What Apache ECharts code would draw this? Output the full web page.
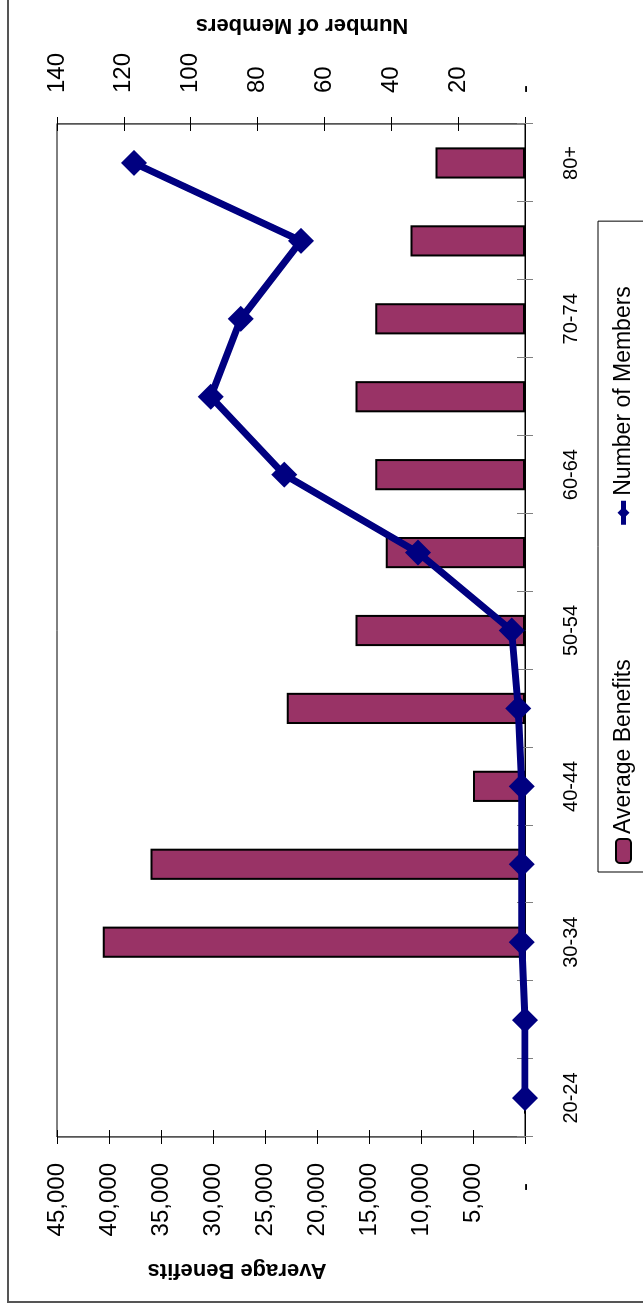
<!DOCTYPE html>
<html>
<head>
<meta charset="utf-8">
<script src="https://cdn.jsdelivr.net/npm/echarts@6/dist/echarts.min.js"></script>
<style>
  html, body { margin: 0; padding: 0; background: #fff; overflow: hidden; }
  body { width: 643px; height: 1315px; position: relative; }
  /* chart is laid out landscape, then turned a quarter turn counter-clockwise */
  #chart {
    position: absolute; left: 0; top: 0;
    width: 1315px; height: 643px;
    transform-origin: 0 0;
    transform: translateY(1315px) rotate(-90deg);
  }
</style>
</head>
<body>
<div id="chart"></div>
<script>
const ageBands = ['20-24','25-29','30-34','35-39','40-44','45-49','50-54','55-59','60-64','65-69','70-74','75-79','80+'];
const averageBenefits = [0, 0, 40600, 36000, 5000, 22900, 16300, 13400, 14400, 16300, 14400, 11000, 8600];
const numberOfMembers = [0, 0, 1, 1, 1, 2, 4, 32, 72, 94, 85, 67, 117];

const FONT = 'Liberation Sans, Arial, sans-serif';
const chart = echarts.init(document.getElementById('chart'), null, { renderer: 'canvas' });

const fmtThousands = v => v === 0 ? '{z|-}' : v.toLocaleString('en-US');
const fmtMembers = v => v === 0 ? '-' : String(v);

chart.setOption({
  animation: false,
  backgroundColor: '#fff',
  textStyle: { fontFamily: FONT },
  grid: { left: 178, right: 124, top: 57, bottom: 118, show: true, borderColor: '#000', borderWidth: 1, backgroundColor: 'transparent' },
  legend: {
    left: 443, top: 598,
    padding: [14, 65, 60, 8],
    itemGap: 132,
    itemWidth: 24, itemHeight: 15,
    borderColor: '#000', borderWidth: 1,
    textStyle: { fontFamily: FONT, fontSize: 23, color: '#000' },
    data: [
      { name: 'Average Benefits' },
      { name: 'Number of Members', lineStyle: { width: 5 } }
    ]
  },
  xAxis: [
    {
      type: 'category', data: ageBands, position: 'bottom',
      axisLine: { lineStyle: { color: '#000', width: 1 } },
      axisTick: { show: true, interval: 0, length: 8, lineStyle: { color: '#808080' } },
      axisLabel: { interval: 1, margin: 36, fontSize: 20, color: '#000', fontFamily: FONT }
    },
    {
      type: 'category', data: ageBands, position: 'bottom',
      axisLine: { show: false },
      axisTick: { show: true, inside: true, interval: 0, length: 8, lineStyle: { color: '#808080' } },
      axisLabel: { show: false }
    }
  ],
  yAxis: [
    {
      type: 'value', position: 'left', min: 0, max: 45000, interval: 5000,
      splitLine: { show: false },
      axisLine: { show: true, lineStyle: { color: '#555', width: 1 } },
      axisTick: { show: true, length: 7, lineStyle: { color: '#000' } },
      axisLabel: { margin: 26, fontSize: 24, color: '#000', fontFamily: FONT, formatter: fmtThousands,
        rich: { z: { fontSize: 24, fontFamily: FONT, color: '#000', padding: [0, 20, 0, 0] } } }
    },
    {
      type: 'value', position: 'right', min: 0, max: 140, interval: 20,
      splitLine: { show: false },
      axisLine: { show: true, lineStyle: { color: '#555', width: 1 } },
      axisTick: { show: true, length: 7, lineStyle: { color: '#000' } },
      axisLabel: { margin: 31, fontSize: 24, color: '#000', fontFamily: FONT, formatter: fmtMembers }
    },
    {
      type: 'value', position: 'left', min: 0, max: 45000, interval: 5000,
      splitLine: { show: false }, axisLine: { show: false }, axisLabel: { show: false },
      axisTick: { show: true, inside: true, length: 7, lineStyle: { color: '#000' } }
    },
    {
      type: 'value', position: 'right', min: 0, max: 140, interval: 20,
      splitLine: { show: false }, axisLine: { show: false }, axisLabel: { show: false },
      axisTick: { show: true, inside: true, length: 7, lineStyle: { color: '#000' } }
    }
  ],
  graphic: [
    { type: 'rect', shape: { x: 13, y: 8, width: 1400, height: 700 }, style: { fill: 'none', stroke: '#555', lineWidth: 2 }, silent: true, z: -1 },
    { type: 'text', x: 45, y: 237, rotation: Math.PI / 2,
      style: { text: 'Average Benefits', font: 'bold 22px ' + FONT, fill: '#000', align: 'center', verticalAlign: 'middle' } },
    { type: 'text', x: 1290, y: 302, rotation: Math.PI / 2,
      style: { text: 'Number of Members', font: 'bold 22px ' + FONT, fill: '#000', align: 'center', verticalAlign: 'middle' } }
  ],
  series: [
    {
      name: 'Average Benefits', type: 'bar', xAxisIndex: 0, yAxisIndex: 0,
      data: averageBenefits, barWidth: '40%',
      itemStyle: { color: '#993366', borderColor: '#000', borderWidth: 2 }
    },
    {
      name: 'Number of Members', type: 'line', xAxisIndex: 0, yAxisIndex: 1,
      data: numberOfMembers,
      symbol: 'diamond', symbolSize: 26,
      lineStyle: { color: '#000080', width: 7 },
      itemStyle: { color: '#000080' },
      z: 5
    }
  ]
});
</script>
</body>
</html>
